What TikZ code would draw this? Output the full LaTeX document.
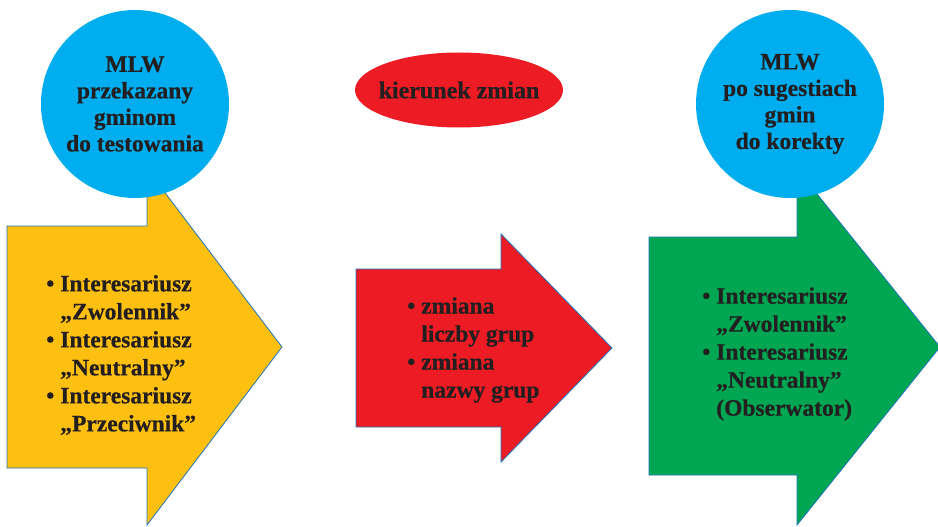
\documentclass[tikz,border=0pt]{standalone}
\usepackage{fontspec}
\setmainfont{Liberation Serif}[BoldFeatures={FakeBold=0.6}]
\usepackage{xcolor}
\usetikzlibrary{shapes.geometric, positioning}

\definecolor{skyblue}{HTML}{00AEEF}
\definecolor{sunyellow}{HTML}{FDC010}
\definecolor{signalred}{HTML}{ED1C24}
\definecolor{leafgreen}{HTML}{00A651}
\definecolor{edgeblue}{HTML}{1C75BC}
\definecolor{inkgray}{HTML}{231F20}

\newcommand{\bul}{\textbullet~}
\newcommand{\ind}{\hphantom{\textbullet~}}

\begin{document}
\begin{tikzpicture}[
  x=1pt, y=-1pt,
  bigarrow/.style = {fill=#1, draw=edgeblue, line width=0.8pt},
  bubble/.style   = {circle, fill=skyblue, minimum size=188pt, inner sep=0pt,
                     align=center, text=inkgray,
                     font=\fontsize{23.5}{26.5}\selectfont\bfseries},
  oval/.style     = {ellipse, fill=signalred, minimum width=208pt,
                     minimum height=75pt, inner sep=0pt, text=inkgray,
                     font=\fontsize{24}{27}\selectfont\bfseries},
  bullets/.style  = {anchor=west, inner sep=0pt, align=left, text=inkgray,
                     font=\fontsize{23.5}{28}\selectfont\bfseries}
]
\useasboundingbox (0,0) rectangle (938,527);

% ── Arrows ────────────────────────────────────────────────────────────────────
\draw[bigarrow=sunyellow] (7,226) -- (147,226) -- (147,169) -- (282,347)
  -- (147,525) -- (147,468) -- (7,468) -- cycle;
\draw[bigarrow=signalred] (356,269) -- (501,269) -- (501,234) -- (612,348)
  -- (501,462) -- (501,427) -- (356,427) -- cycle;
\draw[bigarrow=leafgreen] (649,237) -- (797,237) -- (797,169) -- (940,347)
  -- (797,525) -- (797,475) -- (649,475) -- cycle;

% ── Arrow texts ───────────────────────────────────────────────────────────────
\node[bullets] (before) at (46,355)
  {\bul Interesariusz\\\ind „Zwolennik”\\\bul Interesariusz\\\ind „Neutralny”\\
   \bul Interesariusz\\\ind „Przeciwnik”};
\node[bullets] (change) at (407,350)
  {\bul zmiana\\\ind liczby grup\\\bul zmiana\\\ind nazwy grup};
\node[bullets] (after) at (702,354)
  {\bul Interesariusz\\\ind „Zwolennik”\\\bul Interesariusz\\\ind „Neutralny”\\
   \ind (Obserwator)};

% ── Top labels ────────────────────────────────────────────────────────────────
\node[bubble] (mlwtest) at (135,104) {MLW\\przekazany\\gminom\\do testowania};
\node[bubble] (mlwfix)  at (790,104) {MLW\\po sugestiach\\gmin\\do korekty};
\node[oval]   (dir)     at (459,90)  {\makebox[0pt][c]{kierunek zmian}};

\end{tikzpicture}
\end{document}
